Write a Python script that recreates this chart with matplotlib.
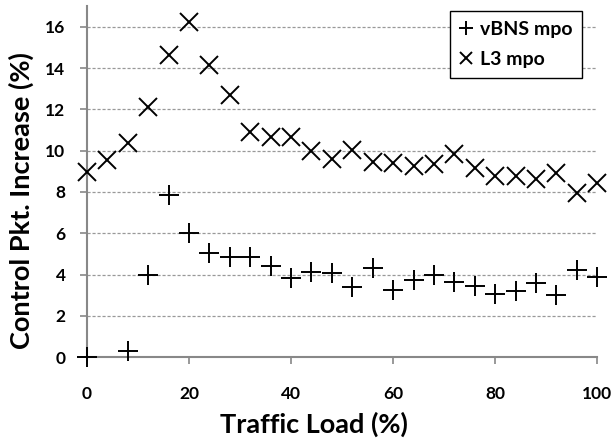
import numpy as np
import matplotlib.pyplot as plt

plt.rcParams['font.family'] = ['Lato', 'DejaVu Sans']
plt.rcParams['font.weight'] = 'bold'

load = [0, 4, 8, 12, 16, 20, 24, 28, 32, 36, 40, 44, 48, 52, 56, 60, 64, 68,
        72, 76, 80, 84, 88, 92, 96, 100]
# vBNS has no visible point at 4%
vbns = [0.0, np.nan, 0.27, 3.98, 7.86, 6.0, 5.03, 4.87, 4.85, 4.42, 3.82, 4.14,
        4.07, 3.39, 4.31, 3.26, 3.74, 3.98, 3.66, 3.45, 3.06, 3.18, 3.58, 3.02,
        4.23, 3.87]
l3 = [8.98, 9.55, 10.36, 12.13, 14.63, 16.24, 14.15, 12.7, 10.92, 10.68, 10.65,
      10.0, 9.58, 10.03, 9.44, 9.42, 9.26, 9.36, 9.84, 9.15, 8.78, 8.78, 8.61,
      8.9, 7.97, 8.45]
xticks = [0, 20, 40, 60, 80, 100]
yticks = [0, 2, 4, 6, 8, 10, 12, 14, 16]

fig = plt.figure(figsize=(6.15, 4.43), dpi=100)
ax = fig.add_axes([0.1415, 0.194, 0.8295, 0.792])

ax.plot(load, vbns, linestyle='none', marker='+', color='black', zorder=4,
        markersize=14, markeredgewidth=1.4, clip_on=False, label='vBNS mpo')
ax.plot(load, l3, linestyle='none', marker='x', color='black', zorder=4,
        markersize=12.5, markeredgewidth=1.4, clip_on=False, label='L3 mpo')

ax.set_xlim(0, 100)
ax.set_ylim(0, 17)
ax.set_xticks(xticks)
ax.set_yticks(yticks)
ax.tick_params(labelsize=12.5, colors='#888888', labelcolor='black', length=5, width=1.2)
ax.tick_params(axis='y', pad=10.5)
ax.tick_params(axis='x', pad=16)
for s in ['top', 'right']:
    ax.spines[s].set_visible(False)
for s in ['left', 'bottom']:
    ax.spines[s].set_color('#888888')
    ax.spines[s].set_linewidth(1.5)
ax.yaxis.grid(True, linestyle=(0, (2.5, 1.5)), color='#999999', linewidth=0.9)
ax.set_axisbelow(True)

ax.set_xlabel('Traffic Load (%)', fontsize=19.5, fontweight='bold')
ax.set_ylabel('Control Pkt. Increase (%)', fontsize=19.5, fontweight='bold')
ax.xaxis.set_label_coords(0.445, -0.155)
ax.yaxis.set_label_coords(-0.104, 0.447)

leg = ax.legend(loc='upper right', bbox_to_anchor=(0.97, 0.985), fontsize=14,
                markerscale=0.7, handlelength=0.6, handletextpad=0.4,
                fancybox=False, edgecolor='black', framealpha=1,
                borderpad=0.5, labelspacing=0.65, borderaxespad=0)
leg.get_frame().set_linewidth(1.0)

fig.savefig('out.png', dpi=100)
